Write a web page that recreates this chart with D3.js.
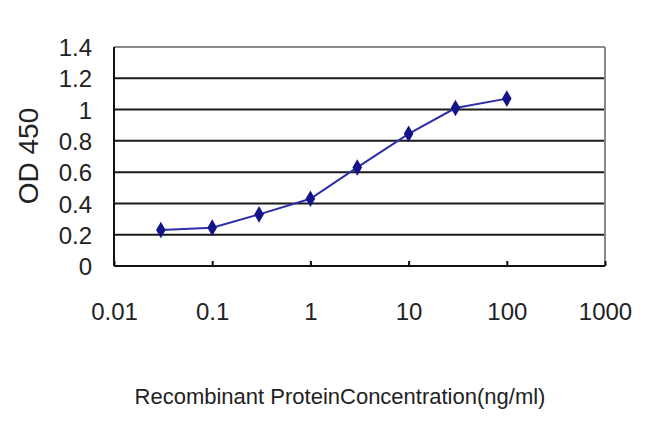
<!DOCTYPE html>
<html><head><meta charset="utf-8">
<script src="https://cdn.jsdelivr.net/npm/d3@7/dist/d3.min.js"></script>
<style>body{margin:0;background:#fff}svg{display:block}</style>
</head><body><svg id="c" width="650" height="433"></svg>
<script>
const concentrations = [0.03, 0.1, 0.3, 1, 3, 10, 30, 100];
const odValues = [0.23, 0.245, 0.33, 0.43, 0.63, 0.845, 1.01, 1.07];
const yTicks = [0, 0.2, 0.4, 0.6, 0.8, 1, 1.2, 1.4];
const xTicks = [0.01, 0.1, 1, 10, 100, 1000];
const xTitle = "Recombinant ProteinConcentration(ng/ml)";
const yTitle = "OD 450";

const svg = d3.select("#c");
const L = 114, R = 605, T = 47, B = 266;
const x = d3.scaleLog().domain([0.01, 1000]).range([L, R]);
const y = d3.scaleLinear().domain([0, 1.4]).range([B, T]);
const font = "'Liberation Sans', Arial, sans-serif";

// gridlines
svg.append("g").selectAll("line").data(yTicks.filter(d => d > 0 && d < 1.4)).join("line")
  .attr("x1", L).attr("x2", R).attr("y1", d => y(d)).attr("y2", d => y(d))
  .attr("stroke", "#1a1a1a").attr("stroke-width", 2);
// top and right border (gray)
svg.append("line").attr("x1", L).attr("x2", R).attr("y1", T).attr("y2", T).attr("stroke", "#8a8a8a").attr("stroke-width", 2);
svg.append("line").attr("x1", R).attr("x2", R).attr("y1", T).attr("y2", B).attr("stroke", "#8a8a8a").attr("stroke-width", 2);

// axes
const xAxis = d3.axisBottom(x).tickValues(xTicks).tickSize(-5).tickFormat(d => String(d));
const gx = svg.append("g").attr("transform", `translate(0,${B})`).call(xAxis);
gx.select(".domain").attr("stroke", "#111").attr("stroke-width", 2).attr("d", `M${L},0H${R}`);
gx.selectAll(".tick line").attr("stroke", "#111").attr("stroke-width", 2);
gx.selectAll(".tick text").attr("y", 54).attr("dy", 0).attr("font-family", font).attr("font-size", 24).attr("fill", "#222");

const yAxis = d3.axisLeft(y).tickValues(yTicks).tickSize(0).tickFormat(d => String(d));
const gy = svg.append("g").attr("transform", `translate(${L},0)`).call(yAxis);
gy.select(".domain").attr("stroke", "#111").attr("stroke-width", 2).attr("d", `M0,${T}V${B}`);
gy.selectAll(".tick text").attr("x", -22).attr("dy", "0.36em").attr("font-family", font).attr("font-size", 24).attr("fill", "#222");

// line
const pts = concentrations.map((c, i) => [c, odValues[i]]);
svg.append("path").datum(pts)
  .attr("d", d3.line().x(d => x(d[0])).y(d => y(d[1])))
  .attr("fill", "none").attr("stroke", "#2e2ea6").attr("stroke-width", 2);
// markers
svg.append("g").selectAll("path").data(pts).join("path")
  .attr("transform", d => `translate(${x(d[0])},${y(d[1])})`)
  .attr("d", d3.symbol(d3.symbolDiamond, 80))
  .attr("fill", "#14148a");

// titles
svg.append("text").attr("x", 340).attr("y", 404).attr("text-anchor", "middle")
  .attr("font-family", font).attr("font-size", 22).attr("fill", "#222").text(xTitle);
svg.append("text").attr("transform", "translate(38,156) rotate(-90)").attr("text-anchor", "middle")
  .attr("font-family", font).attr("font-size", 28).attr("fill", "#222").text(yTitle);
</script></body></html>
